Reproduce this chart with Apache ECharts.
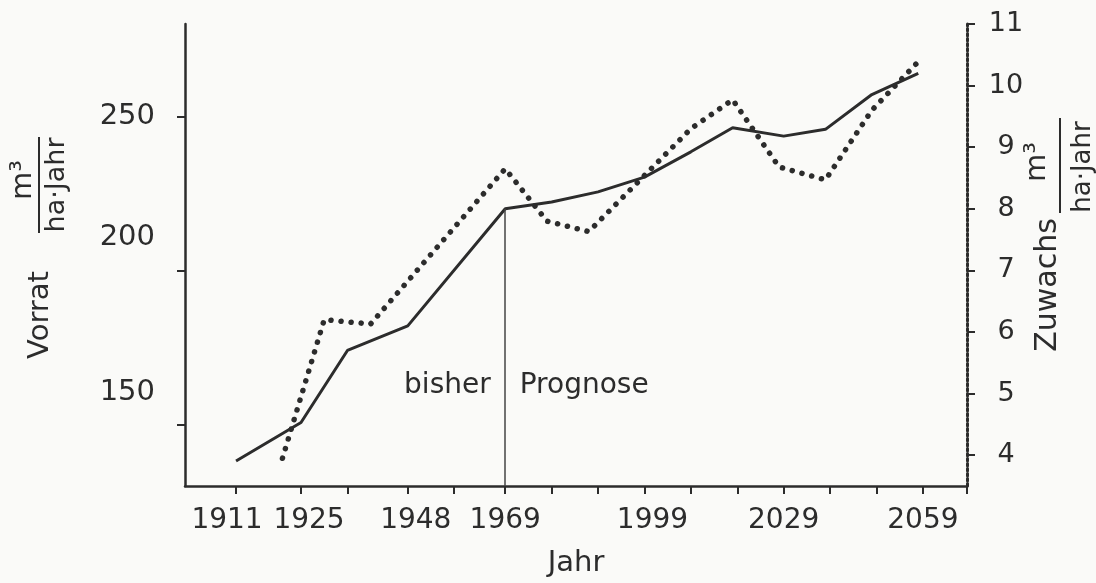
<!DOCTYPE html>
<html>
<head>
<meta charset="utf-8">
<title>Vorrat und Zuwachs</title>
<script src="https://cdn.jsdelivr.net/npm/echarts@6.0.0/dist/echarts.min.js"></script>
<style>
  html, body { margin: 0; padding: 0; background: #fafaf8; }
  #chart { width: 1096px; height: 583px; }
</style>
</head>
<body>
<div id="chart"></div>
<script>
// Vorrat (m3/ha), solid line, left axis
var vorratYears  = [1911, 1925, 1935, 1948, 1969, 1979, 1989, 1999, 2009, 2018, 2029, 2038, 2048, 2058];
var vorratValues = [138.1, 150.6, 174, 182, 220, 222.2, 225.5, 230.3, 238.5, 246.3, 243.6, 245.8, 257.1, 264];

// Zuwachs (m3/ha*Jahr), dotted line, right axis
var zuwachsYears  = [1921, 1930, 1940, 1969, 1978, 1987, 2009, 2018, 2028, 2038, 2048, 2057.5];
var zuwachsValues = [3.95, 6.2, 6.13, 8.65, 7.8, 7.63, 9.3, 9.77, 8.68, 8.47, 9.6, 10.35];

// axes
var yearLabels   = [1911, 1925, 1948, 1969, 1999, 2029, 2059];
var yearTicks    = [1911, 1925, 1935, 1948, 1958, 1969, 1979, 1989, 1999, 2009, 2019, 2029, 2039, 2049, 2059, 2068.5];
var vorratTicks  = [150, 200, 250];
var zuwachsTicks = [4, 5, 6, 7, 8, 9, 10, 11];

var splitYear = 1969;   // bisher | Prognose

var ink = '#2c2c2c';
var font = 'DejaVu Sans';

// in the printed figure the lower two Vorrat labels sit a bit above their ticks
var vorratLabelAt = [160.5, 210.7, 250];

function pairs(xs, ys) {
    return xs.map(function (x, i) { return [x, ys[i]]; });
}

function textEl(txt, x, y, size) {
    return {
        type: 'text', x: x, y: y, rotation: Math.PI / 2,
        style: {
            text: txt, font: size + 'px "DejaVu Sans"', fill: ink,
            align: 'center', verticalAlign: 'middle',
            textAlign: 'center', textVerticalAlign: 'middle'
        }
    };
}

var myChart = echarts.init(document.getElementById('chart'));

var option = {
    backgroundColor: '#fafaf8',
    animation: false,
    textStyle: { fontFamily: font, color: ink },
    grid: { left: 185, right: 129, top: 24, bottom: 96 },
    xAxis: {
        type: 'value',
        min: 1900,
        max: 2068.5,
        name: 'Jahr',
        nameLocation: 'middle',
        nameGap: 63,
        nameTextStyle: { fontSize: 29, color: ink, fontFamily: font },
        axisLine: { show: true, lineStyle: { color: ink, width: 2.5 } },
        axisTick: { show: true, customValues: yearTicks, length: 8, lineStyle: { color: ink, width: 2 } },
        axisLabel: {
            customValues: yearLabels,
            hideOverlap: false,
            fontSize: 28,
            color: ink,
            fontFamily: font,
            margin: 21,
            formatter: function (v) {
                // in the print the labels starting with 1 sit a bit right of their tick,
                // 1911 a bit left
                if (v === 1911) return '{l|' + v + '}';
                if (v === 1925 || v === 1948 || v === 1999) return '{r|' + v + '}';
                return String(v);
            },
            rich: {
                l: { fontSize: 28, color: ink, fontFamily: font, padding: [0, 18, 0, 0] },
                r: { fontSize: 28, color: ink, fontFamily: font, padding: [0, 0, 0, 16] }
            }
        },
        splitLine: { show: false }
    },
    yAxis: [{
        type: 'value',
        position: 'left',
        min: 130,
        max: 280,
        axisLine: { show: true, lineStyle: { color: ink, width: 2.5 } },
        axisTick: { show: true, customValues: vorratTicks, length: 8, lineStyle: { color: ink, width: 2 } },
        axisLabel: {
            customValues: vorratLabelAt,
            hideOverlap: false,
            fontSize: 29,
            color: ink,
            fontFamily: font,
            margin: 30,
            formatter: function (v) {
                return String(vorratTicks[vorratLabelAt.indexOf(v)]);
            }
        },
        splitLine: { show: false }
    }, {
        type: 'value',
        position: 'right',
        min: 3.5,
        max: 11,
        axisLine: { show: true, lineStyle: { color: ink, width: 3, type: [2.5, 2.5] } },
        axisTick: { show: true, customValues: zuwachsTicks, length: 8, lineStyle: { color: ink, width: 2 } },
        axisLabel: {
            customValues: zuwachsTicks,
            hideOverlap: false,
            fontSize: 27,
            color: ink,
            fontFamily: font,
            align: 'center',
            margin: 39
        },
        splitLine: { show: false }
    }],
    series: [{
        type: 'line',
        name: 'Vorrat',
        yAxisIndex: 0,
        data: pairs(vorratYears, vorratValues),
        symbol: 'none',
        lineStyle: { color: ink, width: 3 },
        z: 3,
        markLine: {
            silent: true,
            symbol: ['none', 'none'],
            label: { show: false },
            lineStyle: { color: '#444', width: 1.5, type: 'solid' },
            data: [[
                { coord: [splitYear, 130] },
                { coord: [splitYear, vorratValues[vorratYears.indexOf(splitYear)]] }
            ]]
        },
        markPoint: {
            silent: true,
            symbol: 'circle',
            symbolSize: 1,
            itemStyle: { color: 'rgba(0,0,0,0)' },
            label: { show: true, formatter: '{b}', fontSize: 28, color: ink, fontFamily: font, distance: 14 },
            data: [
                { name: 'bisher', coord: [splitYear, 162.7], label: { position: 'left' } },
                { name: 'Prognose', coord: [splitYear, 162.7], label: { position: 'right' } }
            ]
        }
    }, {
        type: 'line',
        name: 'Zuwachs',
        yAxisIndex: 1,
        data: pairs(zuwachsYears, zuwachsValues),
        symbol: 'none',
        lineStyle: { color: ink, width: 5.5, type: [0.1, 10], cap: 'round' },
        z: 2
    }],
    graphic: [
        // left axis title: Vorrat  m3 / ha·Jahr
        textEl('Vorrat', 40, 315, 29),
        textEl('m³', 23, 180, 29),
        { type: 'line', shape: { x1: 39, y1: 137, x2: 39, y2: 233 }, style: { stroke: ink, lineWidth: 2 } },
        textEl('ha·Jahr', 57, 185, 27),

        // right axis title: Zuwachs  m3 / ha·Jahr
        textEl('Zuwachs', 1048, 285, 30),
        textEl('m³', 1037, 162, 29),
        { type: 'line', shape: { x1: 1060, y1: 118, x2: 1060, y2: 213 }, style: { stroke: ink, lineWidth: 2 } },
        textEl('ha·Jahr', 1083, 167, 26)
    ]
};

myChart.setOption(option);
</script>
</body>
</html>
